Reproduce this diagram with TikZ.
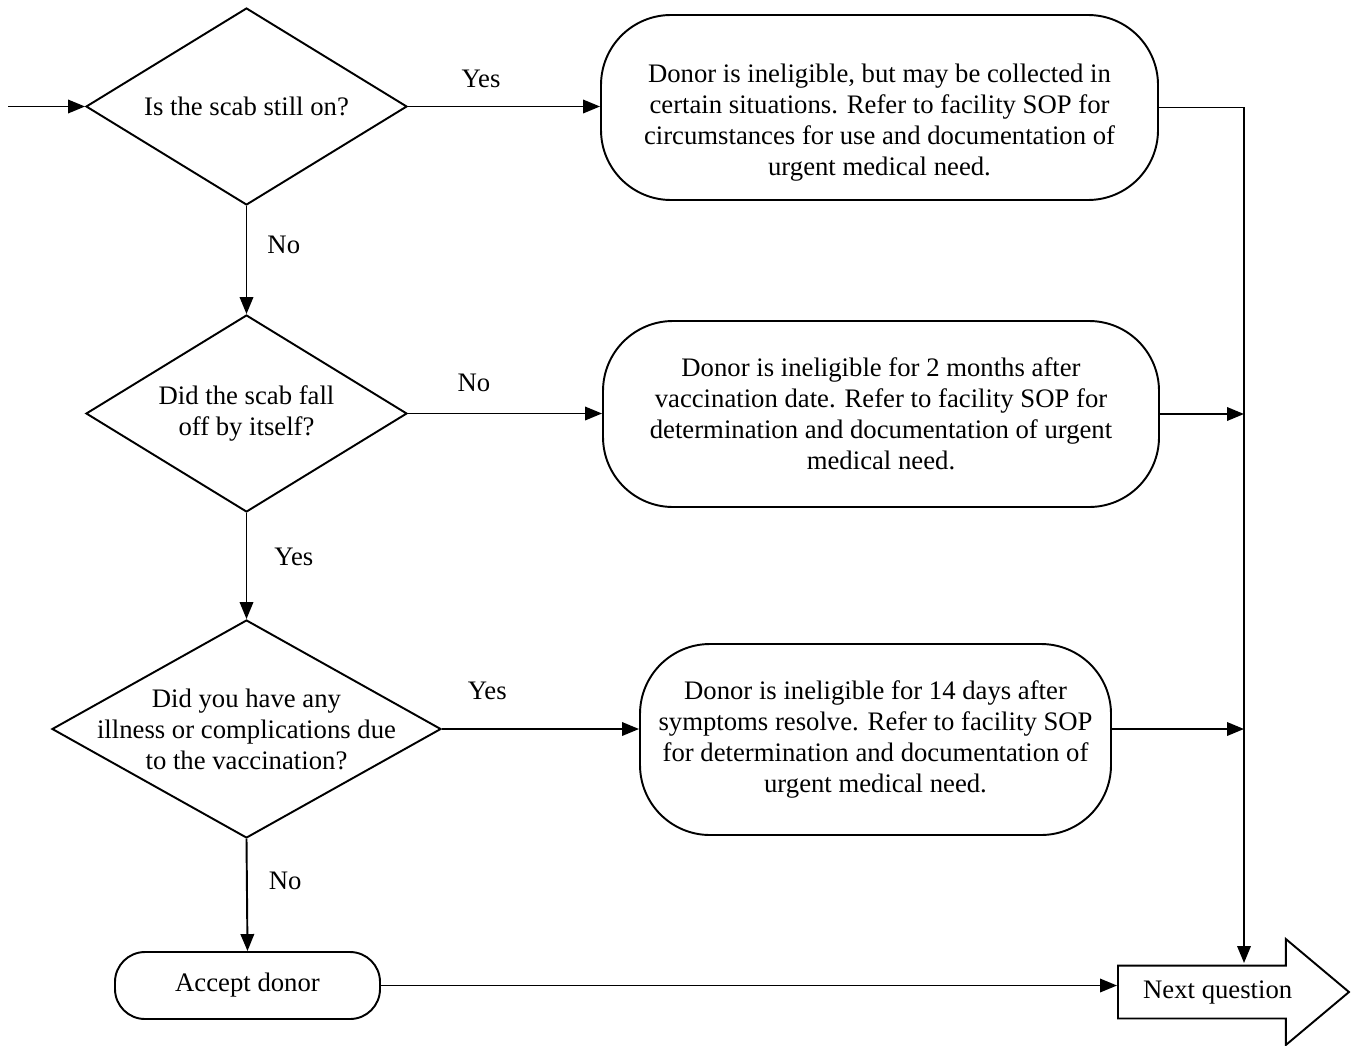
\documentclass[tikz,border=0pt]{standalone}
\usepackage{fontspec}
\setmainfont{Liberation Serif}
\usetikzlibrary{shapes, arrows.meta}

\begin{document}
\begin{tikzpicture}[
			font=\fontsize{15.2pt}{17.6pt}\selectfont,
			line width=1.1pt,
			arr/.style={-{Triangle[length=0.34cm,width=0.27cm]}},
			question/.style={diamond, draw, align=center, inner xsep=-1cm, inner ysep=0pt},
			outcome/.style={rectangle, rounded corners=1.4cm, draw, align=center},
			lbl/.style={inner sep=0pt}
		]
		\useasboundingbox (0,0) rectangle (27.06,-20.9);
		% questions
		\node[question, aspect=1.63, minimum width=6.42cm, minimum height=3.94cm] (q1) at (4.93,-2.13) {Is the scab still on?};
		\node[question, aspect=1.63, minimum width=6.42cm, minimum height=3.94cm] (q2) at (4.93,-8.27) {Did the scab fall\\off by itself?};
		\node[question, aspect=1.78, minimum width=7.78cm, minimum height=4.36cm] (q3) at (4.93,-14.58) {Did you have any\\illness or complications due\\to the vaccination?};
		% outcomes
		\node[outcome, minimum width=11.14cm, minimum height=3.7cm,
			label={[lbl, align=center, yshift=-0.3cm]center:Donor is ineligible, but may be collected in\\certain situations. Refer to facility SOP for\\circumstances for use and documentation of\\urgent medical need.}] (o1) at (17.59,-2.15) {};
		\node[outcome, minimum width=11.12cm, minimum height=3.72cm] (o2) at (17.62,-8.28) {Donor is ineligible for 2 months after\\vaccination date. Refer to facility SOP for\\determination and documentation of urgent\\medical need.};
		\node[outcome, minimum width=9.42cm, minimum height=3.82cm] (o3) at (17.51,-14.79) {Donor is ineligible for 14 days after\\symptoms resolve. Refer to facility SOP\\for determination and documentation of\\urgent medical need.};
		\node[outcome, rounded corners=0.6cm, minimum width=5.3cm, minimum height=1.34cm] (accept) at (4.95,-19.71) {Accept donor};
		\node[single arrow, draw, anchor=tail, minimum height=4.62cm, single arrow head extend=0.53cm,
			single arrow tip angle=80, text height=0.36cm, text depth=0.1cm, inner ysep=0.28cm] (next) at (22.34,-19.84) {Next question};
		\coordinate (in) at (0.16,-2.13);
		\coordinate (nexttop) at (24.88,-19.26);
		% connectors
		\draw[arr] (in) -- (q1.west);
		\draw[arr] (q1.east) -- (q1.east -| o1.west) node[lbl, pos=0.38, above=0.36cm] (y1) {Yes};
		\draw[arr] (q1.south) -- (q2.north) node[lbl, pos=0.36, right=0.4cm] (n1) {No};
		\draw[arr] (q2.east) -- (q2.east -| o2.west) node[lbl, pos=0.34, above=0.42cm] (n2) {No};
		\draw[arr] (q2.south) -- (q3.north) node[lbl, pos=0.41, right=0.54cm] (y2) {Yes};
		\draw[arr] (q3.east) -- (q3.east -| o3.west) node[lbl, pos=0.23, above=0.56cm] (y3) {Yes};
		\draw[arr] (q3.south) -- (accept.north) node[lbl, pos=0.37, right=0.42cm] (n3) {No};
		\draw[arr] (accept.east) -- (accept.east -| next.tail);
		\draw[arr] (o1.east) -| (nexttop);
		\draw[arr] (o2.east) -- (o2.east -| nexttop);
		\draw[arr] (q3.east -| o3.east) -- (q3.east -| nexttop);
	\end{tikzpicture}
\end{document}
